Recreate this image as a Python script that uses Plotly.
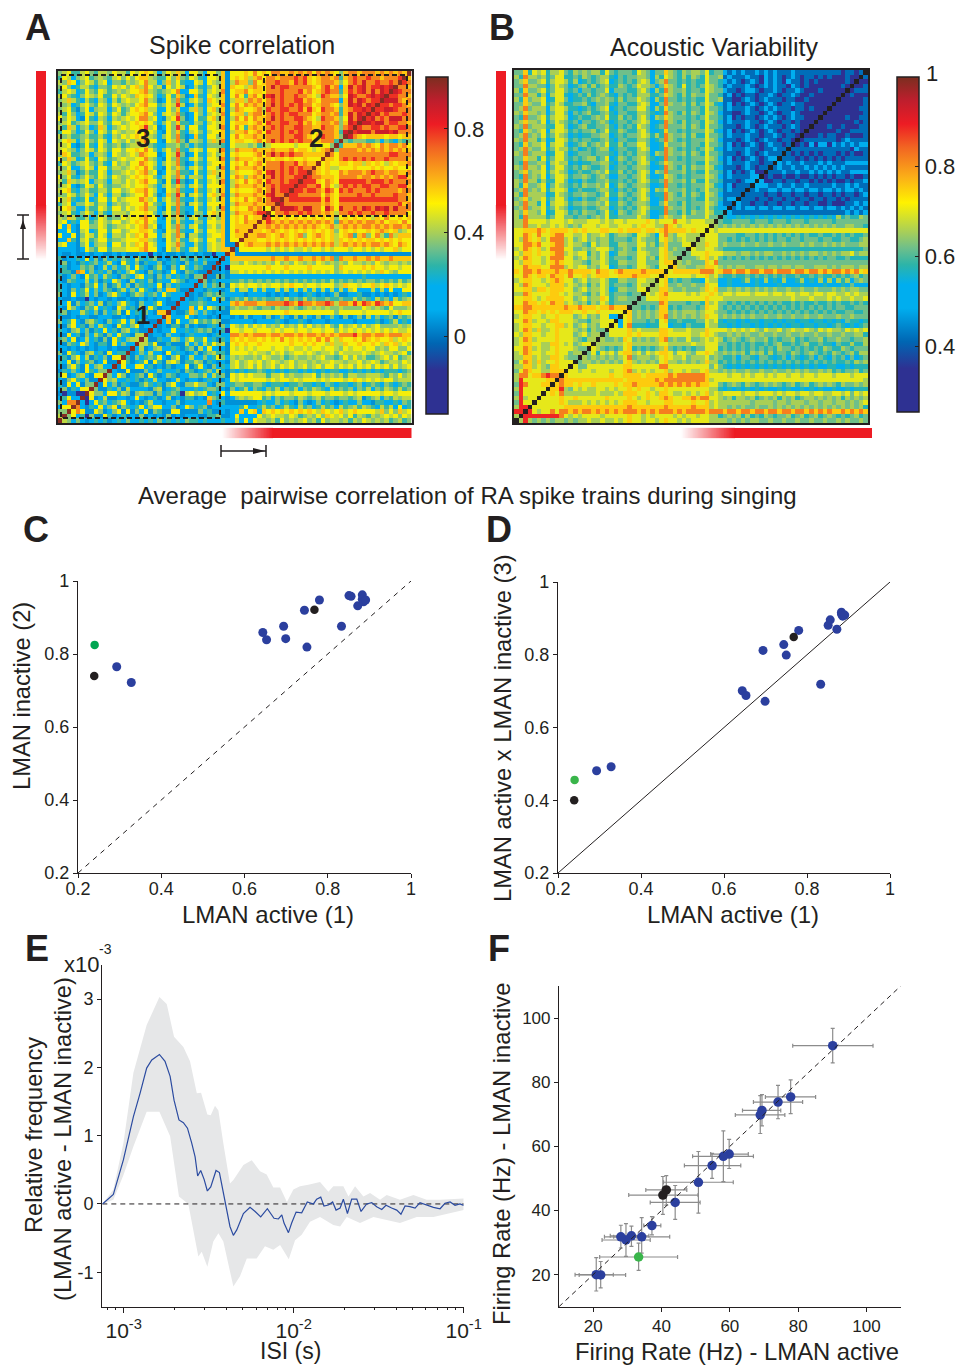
import plotly.graph_objects as go

W, H = 957, 1365
FONT = "Liberation Sans"
INK = "#231f20"
BLUE = "#2b3f9e"

# ---- heat map A: upper-left triangle, top row first, read cell by cell as colour levels
SPIKE_ROWS = [
"4563356435 5465536567 6524657526 6426647166 6768676887 7878786878 7647887888 7878787",
"3652456345 4356464677 5433647436 5326657167 6757868878 8898976788 7837898898 878889",
"5476246535 6244354568 5524746322 6526547158 7748678898 8798976788 8746898a88 98898",
"4642355324 4365646758 6451646512 5324657176 6578768a89 9888887689 7827a89a89 9a9a",
"3565236436 5345456678 5434568226 6425658167 7867768889 8889786789 8837989a8a 8a9",
"5643246546 3364654767 6423637412 7326547168 6378689a89 8898876598 7746a9889a 9a",
"4575325325 4253565568 5412648325 6427657157 7587868989 8899787688 8827a8a989 9",
"5452356436 5365454678 6634659512 5325668168 6878778a89 8989886788 7647a9a8a9",
"4563146245 5246346767 5522647225 7426747158 7667859889 9889797698 8737899a9",
"5364236536 5365356678 6425658312 6425658167 7478868989 8998886788 7837a8a9",
"6465216325 4254565688 5621569412 6336747158 6868778a89 8899876598 8746a8a",
"4563456446 4366456767 6424647332 5425657167 7767869889 9889786788 7847a9",
"5375245237 5245656679 5612649526 6326658168 6378778989 8899887798 87489",
"3664236426 5365455668 6521647325 6425667157 7867869889 8989886688 873a",
"5453345335 3254656768 5424648312 7326647168 6778778889 8899876798 874",
"4675246436 5265464578 6621658415 5425758167 7667868a89 8989886788 83",
"5562136326 4345345557 4322445342 4324443165 5545345666 6656665666 4",
"5654246536 5366466768 6424648325 6526658158 7778777877 7867765678",
"4763345245 4265456587 6612659412 6325647167 6667868a89 89887777",
"6475236326 5345655668 5421648325 6426658158 7776777677 6766766",
"3653456435 3264546687 6524658312 5325667167 6867868889 889787",
"5462246526 6355456768 6421647425 6426648168 7778778889 89898",
"4574135336 5244565678 5612658332 6325757157 6667869a89 8989",
"6463246436 5365456767 6424648525 5426647168 7478778a89 889",
"5375456245 4255465678 6631639312 6325658157 6867869889 89",
"4562136536 4344565667 5424647425 6426667158 7778778989 9",
"5673245335 5366456778 6521658322 7325647167 6667868a89",
"4465346426 4255345668 6412749515 6426758158 7778779a8",
"6573236236 6364566687 5624648322 5325647167 6867868a",
"3562446535 5245456668 6432658415 6426667158 7778778",
"5674225336 5366465678 5521638322 6325648167 668786",
"4563246425 3255546667 6424648312 5426757158 77789",
"5475335236 5344656678 6621647425 6325647167 6867",
"5623266346 5466456768 6522637322 5426657167 687",
"6272166446 5345565678 5612648425 6325647167 77",
"2262156236 6366456677 6421658322 6426657168 7",
"6226146536 5255465768 6624648515 5325667167",
"2273156346 6344566677 5421647325 642664716",
"5622146245 5266465768 6522658422 53256571",
"2222126436 6355566678 6621647325 6325657",
"2112112122 1121211122 0212112122 121102",
"3122326241 4232432532 3412132431 42322",
"2412132342 3521632413 2241232142 3241",
"2312243412 5242352632 1352142632 431",
"2331872423 2413246321 4231262143 21",
"3124216342 5321432562 3142423231 4",
"2143225241 3264215232 4132264312",
"3212214362 4135241432 326142322",
"3214236242 4313524263 21427731",
"4216235241 2463213542 3426322",
"2112110212 2121121121 212212",
"3261423425 1324632142 23621",
"2164214362 3216423152 6312",
"3412253241 4235162324 217",
"2112122112 2211212121 22",
"4236214532 1423625132 1",
"2146231425 3216324612",
"3214524132 623145231",
"2162314253 14263215",
"3426125231 4163245",
"2143264213 316242",
"2212121212 21211",
"4163214523 1623",
"2314625132 416",
"3261423412 61",
"2146316245 2",
"1324216324",
"361245216",
"21463241",
"3162614",
"241326",
"10110",
"2362",
"428",
"26",
"4",
"",
"",
]

# ---- heat map B: same reading
ACOUSTIC_ROWS = [
"4473656355 6435454553 6434443654 2447543545 5463442121 2112121211 1211111111 1101101",
"5385545346 6334354345 5324344554 2536543535 4364451211 1211021210 1210110101 000100",
"4574456356 6535234345 6234343565 2458443434 3364432121 0121021210 2110101000 00010",
"4485544246 5423453534 5335434655 4247543634 3465431211 1210121211 0210100000 0010",
"5374456346 6434244344 6244433564 2538544534 4365442110 1221011210 1121000100 000",
"4485535256 6323435345 4324343555 3347543535 4464431201 0110112101 1210010000 00",
"5374556236 6423343454 5435344654 2538443434 3364451100 1210121110 1100100000 0",
"4475446346 5334453244 5324433565 2248544535 3465321201 0121012101 1211000000",
"4584555256 6533234345 6234344664 2537444434 4364431211 1210121211 101101000",
"5475545246 6424345334 5324433554 3238543535 4365421100 1211012101 12100000",
"4384456356 6523433454 6335343564 2547544434 3464431201 0110121210 1211000",
"4575546246 5434244345 4234434565 2238543534 4365421211 1211012101 101000",
"5484555336 6423453344 5324343654 2348444535 4364431110 1210121110 12100",
"4375456256 6534344534 6335433564 2237443434 4465321201 0121012101 1010",
"4584546346 5423233445 5234344565 3538544535 3364431211 1211011210 110",
"5485535236 6534344334 5324433554 2348543434 4465421110 1210121101 10",
"4374556256 6423453454 6335344664 2237444534 4364431201 0121012110 1",
"4585446346 5534234345 5234433565 2238543434 3465321211 1211011211",
"5484555236 6423444344 4324343554 2548544535 4364431110 12101211",
"4475536346 6434345534 6235434564 3238443434 4465421201 0121012",
"4384455256 5523233445 5324343565 2347544434 3364431211 121101",
"5485546246 6434354334 5234434554 2238543535 4465321110 12101",
"4574556356 5423433454 6335343565 2548444534 3364431201 0120",
"4384546246 6534454345 4224434564 2237543434 4465421211 112",
"5485535336 6423243344 5334343565 3348544535 3364431110 12",
"5374456246 5434354454 6235434554 2238443434 4465321201 1",
"4584546356 6523433345 5324343565 2547444534 3464431211",
"5385555236 5434454434 6335434564 2338543535 436542111",
"4574556346 6423243345 5224343565 2238544434 33644312",
"5485536256 6534454454 6335434554 2247443534 4465421",
"4584556346 5423343345 5234343565 3338544534 346432",
"5475546236 6534354434 6325434564 2238443535 44653",
"5385555346 6443443454 6334444654 2247544644 4464",
"5586666566 6565556665 6566566667 6566686656 665",
"5585565565 6545466656 6556665676 6558765666 66",
"6677787677 7767676667 7667677767 7678777767 6",
"6687686678 8665564556 5345543665 4268546655",
"6587675688 8564564545 5344434654 436754565",
"6688786678 8565543645 5335544664 53574446",
"5687675688 8664454566 6434543654 4467454",
"6577676678 8565663546 5235544665 446754",
"5687665688 8664564546 5344434664 53675",
"6577665678 7665543556 5335544664 4467",
"6687776688 8565664546 6234434665 436",
"7688787778 7787777687 7678777787 77",
"6687677687 7686675677 7667778777 6",
"5677665678 7664564556 5335544665",
"6587666577 7565453546 534443465",
"6677577677 7664564556 52355446",
"5587666677 6565543546 5344434",
"6677656777 7664564557 634554",
"6687767687 7565453546 53444",
"7788777777 7877877767 7877",
"6687767676 7776676676 666",
"5677665667 6664564546 62",
"6687566577 6665443556 6",
"5677665667 7564564546",
"5687575567 666545354",
"6577665667 66645645",
"5687566667 6665435",
"5677665577 656456",
"6687565567 66654",
"5687665667 6645",
"5577565577 654",
"4687575667 66",
"5577565477 6",
"4687665577",
"588677898",
"59666667",
"4986667",
"596666",
"49666",
"5956",
"496",
"59",
"9",
"",
"",
]

LEVEL_KEYS = "0123456789ab"
SPIKE_LEVELS = [-0.144, 0.051, 0.142, 0.285, 0.363, 0.428, 0.5, 0.578, 0.675, 0.792, 0.883, 0.987]
ACOUSTIC_LEVELS = [0.35, 0.417, 0.5, 0.574, 0.619, 0.656, 0.701, 0.753, 0.821, 0.888, 0.94, 0.993]

# ---- panels C and D
ACTIVE_BLUE = [0.293, 0.328, 0.644, 0.653, 0.694, 0.699, 0.744, 0.750, 0.780, 0.833, 0.851, 0.856, 0.872, 0.883, 0.883, 0.886, 0.891]
INACTIVE_BLUE = [0.765, 0.722, 0.859, 0.839, 0.876, 0.842, 0.920, 0.819, 0.948, 0.876, 0.960, 0.958, 0.932, 0.962, 0.950, 0.943, 0.948]
CROSS_BLUE = [0.481, 0.492, 0.701, 0.688, 0.812, 0.672, 0.828, 0.799, 0.867, 0.719, 0.881, 0.896, 0.870, 0.917, 0.912, 0.906, 0.909]
ACTIVE_BLACK = [0.239, 0.768]
INACTIVE_BLACK = [0.740, 0.921]
CROSS_BLACK = [0.400, 0.849]
ACTIVE_GREEN = [0.240]
INACTIVE_GREEN = [0.825]
CROSS_GREEN = [0.456]

# ---- panel E
ISI_LOG = [-3.125,-3.061,-3.002,-2.943,-2.904,-2.865,-2.835,-2.79,-2.757,-2.727,-2.704,-2.675,-2.649,-2.625,-2.6,-2.58,-2.565,-2.547,-2.527,-2.508,-2.488,-2.457,-2.437,-2.418,-2.398,-2.375,-2.355,-2.335,-2.296,-2.257,-2.227,-2.194,-2.155,-2.116,-2.09,-2.07,-2.057,-2.031,-2.012,-1.986,-1.953,-1.92,-1.884,-1.865,-1.841,-1.822,-1.796,-1.771,-1.751,-1.727,-1.708,-1.684,-1.659,-1.629,-1.604,-1.571,-1.541,-1.512,-1.482,-1.457,-1.424,-1.394,-1.369,-1.345,-1.316,-1.286,-1.257,-1.218,-1.178,-1.139,-1.11,-1.08,-1.051,-1.022,-1.0]
ISI_MEAN = [0,0.14,0.645,1.28,1.62,1.99,2.11,2.19,2.09,1.87,1.52,1.23,1.19,1.11,0.89,0.69,0.41,0.49,0.36,0.19,0.25,0.49,0.46,0.23,0,-0.33,-0.46,-0.38,-0.14,-0.05,-0.11,-0.19,-0.07,-0.21,-0.22,-0.16,-0.28,-0.42,-0.28,-0.12,-0.13,0.03,0,0.07,0.10,-0.03,-0.015,0.03,-0.09,-0.06,0.07,-0.14,0.07,0.07,-0.11,0,0.02,-0.04,-0.08,-0.02,-0.06,-0.09,-0.15,-0.03,-0.04,-0.06,0.02,-0.02,-0.05,-0.07,0.01,0.03,-0.02,0,-0.02]
UPPER_LOG = [-3.125,-3.061,-3.002,-2.943,-2.865,-2.79,-2.747,-2.704,-2.649,-2.61,-2.57,-2.545,-2.508,-2.488,-2.463,-2.443,-2.414,-2.375,-2.355,-2.296,-2.247,-2.198,-2.159,-2.12,-2.08,-2.04,-2.002,-1.963,-1.914,-1.845,-1.796,-1.767,-1.708,-1.678,-1.639,-1.59,-1.551,-1.492,-1.453,-1.375,-1.296,-1.218,-1.139,-1.0]
UPPER_VAL = [0,0.21,0.89,1.92,2.62,3.03,2.93,2.45,2.30,2.09,1.62,1.63,1.31,1.30,1.44,1.37,0.89,0.30,0.35,0.57,0.64,0.48,0.43,0.24,0.24,0.03,0.21,0.26,0.28,0.32,0.18,0.26,0.26,0.11,0.26,0.11,0.16,0.06,0.13,0.06,0.13,0.06,0.06,0.08]
LOWER_LOG = [-3.125,-3.061,-3.002,-2.943,-2.865,-2.79,-2.727,-2.675,-2.62,-2.561,-2.541,-2.508,-2.473,-2.443,-2.414,-2.355,-2.316,-2.276,-2.218,-2.169,-2.12,-2.08,-2.029,-1.992,-1.953,-1.904,-1.845,-1.767,-1.727,-1.688,-1.61,-1.531,-1.375,-1.276,-1.178,-1.0]
LOWER_VAL = [0,0.06,0.42,0.84,1.35,1.35,0.99,0.11,0,-0.77,-0.70,-0.92,-0.55,-0.43,-0.55,-1.21,-1.06,-0.80,-0.80,-0.62,-0.67,-0.60,-0.81,-0.53,-0.45,-0.26,-0.19,-0.31,-0.33,-0.19,-0.28,-0.19,-0.28,-0.19,-0.19,-0.09]

# ---- panel F: rate, low, high for each cell
F_BLUE_X = [90.1,77.8,74.1,69.4,68.9,59.8,58.1,54.8,50.8,44.0,37.2,34.2,31.2,29.6,28.1,22.2,20.9]
F_BLUE_XLO = [78.4,70.4,66.9,63.7,61.6,54.4,49.1,46.7,40.6,36.7,34.8,26.0,25.0,22.6,23.3,15.9,14.7]
F_BLUE_XHI = [101.9,85.1,81.3,74.9,76.1,65.4,66.9,63.2,61.0,51.3,39.8,42.4,36.3,36.7,32.8,29.5,25.9]
F_BLUE_Y = [91.4,75.4,73.8,71.2,69.8,57.6,56.9,54.0,48.8,42.5,35.3,31.8,32.1,30.8,31.8,19.9,20.0]
F_BLUE_YLO = [86.0,70.2,68.6,66.4,64.0,53.1,49.0,50.0,39.2,37.2,32.4,26.7,28.8,25.7,28.3,15.9,14.9]
F_BLUE_YHI = [96.8,80.7,79.0,76.1,75.8,62.2,64.8,57.8,58.4,47.8,38.1,37.8,35.1,35.9,35.4,24.1,25.3]
F_GREEN_X, F_GREEN_XLO, F_GREEN_XHI = [33.3], [21.9], [44.7]
F_GREEN_Y, F_GREEN_YLO, F_GREEN_YHI = [25.5], [21.3], [29.8]
F_BLACK_X, F_BLACK_XLO, F_BLACK_XHI = [41.4, 40.4], [35.4, 30.4], [47.4, 50.7]
F_BLACK_Y, F_BLACK_YLO, F_BLACK_YHI = [46.4, 44.8], [41.7, 38.8], [50.9, 50.6]

JET = [[0, "#2e3192"], [0.13, "#2e3192"], [0.21, "#0066b3"], [0.31, "#00aeef"], [0.38, "#00aeef"],
       [0.44, "#2db4a8"], [0.49, "#6fbf8a"], [0.536, "#a6ce5a"], [0.625, "#fff200"], [0.70, "#fbb017"], [0.79, "#f26522"],
       [0.86, "#ed1c24"], [0.93, "#be1e2d"], [1, "#7b2e20"]]


def matrix(rows, levels):
    tri = [r.replace(" ", "") for r in rows]
    n = len(tri)
    table = dict(zip(LEVEL_KEYS, levels))
    out = []
    for r in range(n):
        line = []
        for c in range(n):
            if r + c == n - 1:
                line.append(table["b"])
                continue
            a, b = (r, c) if r + c < n - 1 else (n - 1 - c, n - 1 - r)
            s = tri[a]
            ch = s[b] if b < len(s) else (s[-1] if s else "5")
            line.append(table[ch])
        out.append(line)
    return out


def px(x):
    return x / W


def py(y):
    return 1 - y / H


fig = go.Figure()
shapes, notes = [], []


def text(s, x, y, size, angle=0, weight=None, color=INK):
    notes.append(dict(text=s, x=px(x), y=py(y), xref="paper", yref="paper", showarrow=False,
                      xanchor="center", yanchor="middle", textangle=angle,
                      font=dict(family=FONT, size=size, color=color, weight=weight or "normal")))


def axes(n, x0, x1, y0, y1, xa, ya):
    suffix = "" if n == 1 else str(n)
    fig.layout["xaxis" + suffix] = dict(domain=[px(x0), px(x1)], anchor="y" + suffix, **xa)
    fig.layout["yaxis" + suffix] = dict(domain=[py(y1), py(y0)], anchor="x" + suffix, **ya)


def rect(x0, y0, x1, y1, **kw):
    shapes.append(dict(type="rect", xref="paper", yref="paper", x0=px(x0), x1=px(x1), y0=py(y0), y1=py(y1), **kw))


def seg(x0, y0, x1, y1, w=1.5, color=INK, dash="solid"):
    shapes.append(dict(type="line", xref="paper", yref="paper", x0=px(x0), x1=px(x1), y0=py(y0), y1=py(y1),
                       line=dict(color=color, width=w, dash=dash)))


def poly(pts, color=INK):
    d = "M " + " L ".join(f"{px(a):.5f},{py(b):.5f}" for a, b in pts) + " Z"
    shapes.append(dict(type="path", xref="paper", yref="paper", path=d, fillcolor=color, line=dict(width=0)))


def fade(start, end, a0, a1, vertical=True, color=(237, 28, 36)):
    # one-pixel strips from full red at start to white at end
    steps = abs(end - start)
    sign = 1 if end > start else -1
    for i in range(steps):
        a = 1 - (i + 0.5) / steps
        c = "rgb({},{},{})".format(*[round(255 - (255 - k) * a) for k in color])
        p0, p1 = start + sign * i, start + sign * (i + 1)
        if vertical:
            rect(a0, p0, a1, p1, fillcolor=c, line=dict(color=c, width=0.3))
        else:
            rect(p0, a0, p1, a1, fillcolor=c, line=dict(color=c, width=0.3))


SPIKE = matrix(SPIKE_ROWS, SPIKE_LEVELS)
ACOUSTIC = matrix(ACOUSTIC_ROWS, ACOUSTIC_LEVELS)
N = len(SPIKE)
idx = list(range(N))
heat_ax = dict(range=[-0.5, N - 0.5], showticklabels=False, ticks="", showgrid=False, zeroline=False,
               showline=True, mirror=True, linecolor=INK, linewidth=1.5)
heat_ay = dict(range=[N - 0.5, -0.5], showticklabels=False, ticks="", showgrid=False, zeroline=False,
               showline=True, mirror=True, linecolor=INK, linewidth=1.5)

axes(1, 57.5, 411.5, 71, 423, heat_ax, heat_ay)
axes(2, 514, 868, 70, 423, heat_ax, heat_ay)

fig.add_trace(go.Heatmap(z=SPIKE, x=idx, y=idx, xaxis="x", yaxis="y", zmin=-0.3, zmax=1, colorscale=JET,
                         hoverinfo="skip",
                         colorbar=dict(x=px(426), xanchor="left", y=py(77), yanchor="top", lenmode="pixels", len=337,
                                       thickness=22, thicknessmode="pixels", xpad=0, ypad=0, outlinecolor=INK, outlinewidth=1.5,
                                       ticks="inside", ticklen=4, tickcolor=INK,
                                       tickvals=[0, 0.4, 0.8], ticktext=["0", "0.4", "0.8"],
                                       tickfont=dict(family=FONT, size=22, color=INK))))
fig.add_trace(go.Heatmap(z=ACOUSTIC, x=idx, y=idx, xaxis="x2", yaxis="y2", zmin=0.253, zmax=1, colorscale=JET,
                         hoverinfo="skip",
                         colorbar=dict(x=px(897), xanchor="left", y=py(77), yanchor="top", lenmode="pixels", len=335,
                                       thickness=22, thicknessmode="pixels", xpad=0, ypad=0, outlinecolor=INK, outlinewidth=1.5,
                                       ticks="inside", ticklen=4, tickcolor=INK,
                                       tickvals=[0.4, 0.6, 0.8], ticktext=["0.4", "0.6", "0.8"],
                                       tickfont=dict(family=FONT, size=22, color=INK))))
# black diagonal of B
diag = [[1 if r + c == N - 1 else None for c in idx] for r in idx]
fig.add_trace(go.Heatmap(z=diag, x=idx, y=idx, xaxis="x2", yaxis="y2", colorscale=[[0, INK], [1, INK]],
                         showscale=False, hoverinfo="skip"))


def tick_ax(rng, vals, labels, size=18, **kw):
    d = dict(range=rng, tickmode="array", tickvals=vals, ticktext=labels, showgrid=False, zeroline=False,
             showline=True, linecolor=INK, linewidth=1.2, ticks="outside", ticklen=4, tickcolor=INK, tickwidth=1,
             tickfont=dict(family=FONT, size=size, color=INK))
    d.update(kw)
    return d


cvals = [0.2, 0.4, 0.6, 0.8, 1]
clabs = ["0.2", "0.4", "0.6", "0.8", "1"]
axes(3, 78, 411, 581, 873, tick_ax([0.2, 1], cvals, clabs, ticklabelstandoff=-5), tick_ax([0.2, 1], cvals, clabs))
axes(4, 558, 890, 582, 873, tick_ax([0.2, 1], cvals, clabs, ticklabelstandoff=-5), tick_ax([0.2, 1], cvals, clabs))

dots = dict(mode="markers", hoverinfo="skip", showlegend=False)
fig.add_trace(go.Scatter(x=[0.2, 1], y=[0.2, 1], mode="lines", xaxis="x3", yaxis="y3", hoverinfo="skip",
                         line=dict(color=INK, width=1, dash="5px,5px")))
fig.add_trace(go.Scatter(x=ACTIVE_BLUE, y=INACTIVE_BLUE, xaxis="x3", yaxis="y3", marker=dict(size=9, color=BLUE), **dots))
fig.add_trace(go.Scatter(x=ACTIVE_BLACK, y=INACTIVE_BLACK, xaxis="x3", yaxis="y3", marker=dict(size=8.5, color=INK), **dots))
fig.add_trace(go.Scatter(x=ACTIVE_GREEN, y=INACTIVE_GREEN, xaxis="x3", yaxis="y3", marker=dict(size=8.5, color="#00a651"), **dots))

fig.add_trace(go.Scatter(x=[0.2, 1], y=[0.2, 1], mode="lines", xaxis="x4", yaxis="y4", hoverinfo="skip",
                         line=dict(color=INK, width=1)))
fig.add_trace(go.Scatter(x=ACTIVE_BLUE, y=CROSS_BLUE, xaxis="x4", yaxis="y4", marker=dict(size=9, color=BLUE), **dots))
fig.add_trace(go.Scatter(x=ACTIVE_BLACK, y=CROSS_BLACK, xaxis="x4", yaxis="y4", marker=dict(size=8.5, color=INK), **dots))
fig.add_trace(go.Scatter(x=ACTIVE_GREEN, y=CROSS_GREEN, xaxis="x4", yaxis="y4", marker=dict(size=8.5, color="#39b54a"), **dots))

# panel E
minor_vals = [m * 10 ** e for e in (-4, -3, -2) for m in range(2, 10)]
axes(5, 102.3, 463.7, 965, 1306.7,
     dict(type="log", range=[-3.126, -1], tickmode="array", tickvals=[1e-3, 1e-2, 1e-1],
          ticktext=["10<sup>-3</sup>", "10<sup>-2</sup>", "10<sup>-1</sup>"], showgrid=False, zeroline=False,
          showline=True, linecolor=INK, linewidth=1.2, ticks="outside", ticklen=5, tickcolor=INK,
          tickfont=dict(family=FONT, size=21, color=INK),
          minor=dict(ticks="outside", ticklen=2.5, tickcolor=INK, tickvals=minor_vals, showgrid=False)),
     tick_ax([-1.505, 3.5], [-1, 0, 1, 2, 3], ["-1", "0", "1", "2", "3"]))
band_x = [10 ** v for v in UPPER_LOG] + [10 ** v for v in reversed(LOWER_LOG)]
band_y = UPPER_VAL + LOWER_VAL[::-1]
fig.add_trace(go.Scatter(x=band_x, y=band_y, fill="toself", fillcolor="#e6e7e8", mode="lines", line=dict(width=0),
                         xaxis="x5", yaxis="y5", hoverinfo="skip"))
fig.add_trace(go.Scatter(x=[10 ** -3.126, 0.1], y=[0, 0], mode="lines", xaxis="x5", yaxis="y5", hoverinfo="skip",
                         line=dict(color=INK, width=1, dash="5px,4px")))
fig.add_trace(go.Scatter(x=[10 ** v for v in ISI_LOG], y=ISI_MEAN, mode="lines", xaxis="x5", yaxis="y5", hoverinfo="skip",
                         line=dict(color="#2b4ba0", width=1.2)))

# panel F
fvals = [20, 40, 60, 80, 100]
flabs = ["20", "40", "60", "80", "100"]
axes(6, 559, 900.7, 986, 1306.7, tick_ax([10, 110], fvals, flabs, size=17), tick_ax([10, 110], fvals, flabs, size=17))


def cells(xs, lo_x, hi_x, ys, lo_y, hi_y, color):
    err = dict(color="#8c8c8c", thickness=1.2, width=2)
    fig.add_trace(go.Scatter(x=xs, y=ys, xaxis="x6", yaxis="y6", marker=dict(size=9.5, color=color),
                             error_x=dict(type="data", symmetric=False, array=[h - v for h, v in zip(hi_x, xs)],
                                          arrayminus=[v - l for v, l in zip(xs, lo_x)], **err),
                             error_y=dict(type="data", symmetric=False, array=[h - v for h, v in zip(hi_y, ys)],
                                          arrayminus=[v - l for v, l in zip(ys, lo_y)], **err), **dots))


cells(F_BLUE_X, F_BLUE_XLO, F_BLUE_XHI, F_BLUE_Y, F_BLUE_YLO, F_BLUE_YHI, BLUE)
cells(F_GREEN_X, F_GREEN_XLO, F_GREEN_XHI, F_GREEN_Y, F_GREEN_YLO, F_GREEN_YHI, "#39b54a")
cells(F_BLACK_X, F_BLACK_XLO, F_BLACK_XHI, F_BLACK_Y, F_BLACK_YLO, F_BLACK_YHI, INK)
fig.add_trace(go.Scatter(x=[10, 110], y=[10, 110], mode="lines", xaxis="x6", yaxis="y6", hoverinfo="skip",
                         line=dict(color=INK, width=1, dash="5px,4px")))

# decorations of A and B
box = dict(color=INK, width=2, dash="5px,3px")
rect(61, 75, 220, 216, line=box)
rect(264, 75, 407, 216, line=box)
rect(61, 257, 220, 418, line=box)
for bar_x in (36, 496):
    rect(bar_x, 71, bar_x + 10, 205, fillcolor="#ed1c24", line=dict(width=0))
    fade(205, 260, bar_x, bar_x + 10)
rect(273, 428, 411.5, 438, fillcolor="#ed1c24", line=dict(width=0))
fade(273, 222, 428, 438, vertical=False)
rect(735, 428, 872, 438, fillcolor="#ed1c24", line=dict(width=0))
fade(735, 681, 428, 438, vertical=False)
# colour bar minor ticks
for v in (-0.2, 0.2, 0.6):
    tick_y = 414 - (v + 0.3) / 1.3 * 337
    seg(426, tick_y, 430, tick_y, w=1)
# scale arrows
seg(23, 215, 23, 259)
seg(17, 215, 29, 215)
seg(17, 259, 29, 259)
poly([(23, 220), (20, 229), (26, 229)])
seg(221, 451, 266, 451)
seg(221, 445, 221, 457)
seg(266, 445, 266, 457)
poly([(265, 451), (253, 448), (253, 454)])

# texts
for s, x, y in [("A", 38, 27), ("B", 502, 27), ("C", 36, 530), ("D", 499, 530), ("E", 37, 948), ("F", 499, 948)]:
    text(s, x, y, 36, weight="bold")
for s, x, y in [("3", 143, 138), ("2", 316, 138), ("1", 143, 315)]:
    text(s, x, y, 26, weight="bold")
text("Spike correlation", 242, 45, 25)
text("Acoustic Variability", 714, 47, 25)
text("1", 932, 73, 22)
text("Average  pairwise correlation of RA spike trains during singing", 467, 495, 24)
text("LMAN active (1)", 268, 915, 24)
text("LMAN active (1)", 733, 915, 24)
text("LMAN inactive (2)", 22, 696, 23.7, angle=-90)
text("LMAN active x LMAN inactive (3)", 503, 728, 23.7, angle=-90)
text("Relative frequency", 34, 1135, 23.7, angle=-90)
text("(LMAN active - LMAN inactive)", 63, 1139, 23.7, angle=-90)
text("x10", 81, 964, 22)
text("-3", 105, 949, 14)
text("ISI (s)", 290, 1351, 23)
text("Firing Rate (Hz) - LMAN active", 737, 1351, 23.8)
text("Firing Rate (Hz) - LMAN inactive", 501, 1153, 23.8, angle=-90)

fig.update_layout(width=W, height=H, margin=dict(l=0, r=0, t=0, b=0, autoexpand=False), paper_bgcolor="white", plot_bgcolor="white",
                  showlegend=False, shapes=shapes, annotations=notes, font=dict(family=FONT, color=INK))
fig.write_html("out.html", config={"displayModeBar": False},
               post_script="document.body.style.margin='0';document.documentElement.style.overflow='hidden';")
